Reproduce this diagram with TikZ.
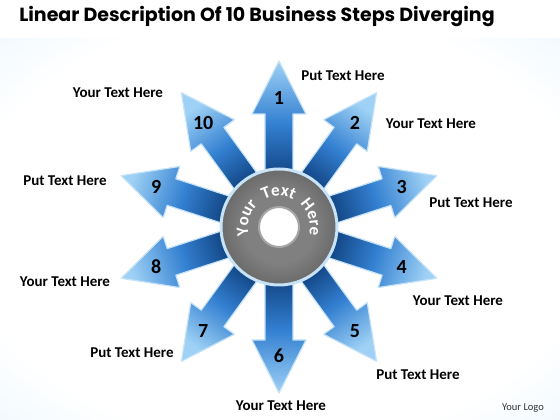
\documentclass[tikz,border=0pt]{standalone}
\usepackage{fontspec}
\setmainfont{Carlito}
\newfontfamily\titlefont{Poppins}
\usepackage{tikz}
\usetikzlibrary{decorations.text}
\definecolor{arrowDark}{rgb}{0.04,0.22,0.45}
\definecolor{arrowMid}{rgb}{0.20,0.50,0.82}
\definecolor{arrowLight}{rgb}{0.62,0.82,0.96}
\definecolor{arrowRim}{rgb}{0.78,0.89,0.97}
\definecolor{hubDark}{rgb}{0.20,0.20,0.20}
\definecolor{hubLight}{rgb}{0.50,0.50,0.50}
\definecolor{bgBlue}{rgb}{0.85,0.94,0.99}
\pgfdeclareradialshading{bgShade}{\pgfpoint{0bp}{0bp}}{color(0bp)=(white); color(28bp)=(white); color(50bp)=(bgBlue)}
\pgfdeclareradialshading{hubShade}{\pgfpoint{0bp}{0bp}}{color(0bp)=(hubLight); color(16bp)=(hubLight); color(50bp)=(hubDark)}

\begin{document}
\begin{tikzpicture}[x=1pt,y=1pt]

          \tikzstyle{arrowShape} = [draw=arrowRim, line width=1.2pt, line join=round, top color=arrowLight, bottom color=arrowDark, middle color=arrowMid];
          \tikzstyle{numberNode} = [font=\fontsize{20}{20}\selectfont\bfseries];
          \tikzstyle{textNode} = [font=\fontsize{15}{15}\selectfont\bfseries];
          \tikzstyle{titleNode} = [font=\titlefont\fontsize{19}{19}\selectfont\bfseries];
          \tikzstyle{logoNode} = [font=\fontsize{10.5}{10.5}\selectfont, black!80];

          \useasboundingbox (-279,-193) rectangle (281,227);
          \shade[shading=bgShade] (-279,-193) rectangle (281,189);
          \fill[white] (-279,189) rectangle (281,227);

          % arrows, clockwise from the top
          \path[arrowShape, rotate=0, shading angle=0] (-14,40) -- (-14,113) -- (-27,113) -- (0,166) -- (27,113) -- (14,113) -- (14,40) -- cycle;
          \path[arrowShape, rotate=-36, shading angle=-36] (-14,40) -- (-14,113) -- (-27,113) -- (0,166) -- (27,113) -- (14,113) -- (14,40) -- cycle;
          \path[arrowShape, rotate=-72, shading angle=-72] (-14,40) -- (-14,113) -- (-27,113) -- (0,166) -- (27,113) -- (14,113) -- (14,40) -- cycle;
          \path[arrowShape, rotate=-108, shading angle=-108] (-14,40) -- (-14,113) -- (-27,113) -- (0,166) -- (27,113) -- (14,113) -- (14,40) -- cycle;
          \path[arrowShape, rotate=-144, shading angle=-144] (-14,40) -- (-14,113) -- (-27,113) -- (0,166) -- (27,113) -- (14,113) -- (14,40) -- cycle;
          \path[arrowShape, rotate=180, shading angle=180] (-14,40) -- (-14,113) -- (-27,113) -- (0,166) -- (27,113) -- (14,113) -- (14,40) -- cycle;
          \path[arrowShape, rotate=144, shading angle=144] (-14,40) -- (-14,113) -- (-27,113) -- (0,166) -- (27,113) -- (14,113) -- (14,40) -- cycle;
          \path[arrowShape, rotate=108, shading angle=108] (-14,40) -- (-14,113) -- (-27,113) -- (0,166) -- (27,113) -- (14,113) -- (14,40) -- cycle;
          \path[arrowShape, rotate=72, shading angle=72] (-14,40) -- (-14,113) -- (-27,113) -- (0,166) -- (27,113) -- (14,113) -- (14,40) -- cycle;
          \path[arrowShape, rotate=36, shading angle=36] (-14,40) -- (-14,113) -- (-27,113) -- (0,166) -- (27,113) -- (14,113) -- (14,40) -- cycle;

          % hub
          \shade[shading=hubShade] (0,0) circle (57);
          \draw[arrowRim, line width=3pt] (0,0) circle (58);
          \filldraw[fill=white, draw=black!35, line width=2pt] (0,0) circle (20);
          \path[decorate, decoration={text along path, text={|\fontsize{17}{17}\selectfont\bfseries|Your Text Here}, text color=white, text align={fit to path stretching spaces}}] (195:31) arc[start angle=195, end angle=-15, radius=31];

          \node[numberNode] (n1) at (90:129) {1};
          \node[numberNode] (n2) at (54:129) {2};
          \node[numberNode] (n3) at (18:129) {3};
          \node[numberNode] (n4) at (-18:129) {4};
          \node[numberNode] (n5) at (-54:129) {5};
          \node[numberNode] (n6) at (-90:129) {6};
          \node[numberNode] (n7) at (-126:129) {7};
          \node[numberNode] (n8) at (-162:129) {8};
          \node[numberNode] (n9) at (162:129) {9};
          \node[numberNode] (n10) at (126:129) {10};

          \node[textNode] (l1) at (64,151) {Put Text Here};
          \node[textNode] (l2) at (152,103) {Your Text Here};
          \node[textNode] (l3) at (192,24) {Put Text Here};
          \node[textNode] (l4) at (179,-74) {Your Text Here};
          \node[textNode] (l5) at (139,-148) {Put Text Here};
          \node[textNode] (l6) at (2,-179) {Your Text Here};
          \node[textNode] (l7) at (-147,-126) {Put Text Here};
          \node[textNode] (l8) at (-214,-55) {Your Text Here};
          \node[textNode] (l9) at (-214,46) {Put Text Here};
          \node[textNode] (l10) at (-161,134) {Your Text Here};

          \node[titleNode] (title) at (-22,210) {Linear Description Of 10 Business Steps Diverging};
          \node[logoNode] (logo) at (244,-181) {Your Logo};
        \end{tikzpicture}
\end{document}
